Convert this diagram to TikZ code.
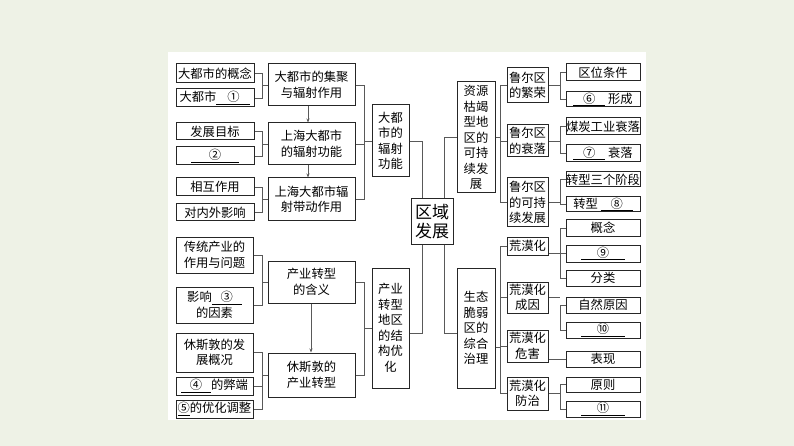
\documentclass[tikz,border=0pt]{standalone}
\usepackage{fontspec}
\setmainfont{Noto Sans CJK SC}
\begin{document}
\begin{tikzpicture}[x=1pt,y=-1pt,
  bx/.style={draw=black!85,line width=1pt,inner sep=0pt,align=center,font=\fontsize{12.3}{15.5}\selectfont,fill=white},
  ln/.style={draw=black!65,line width=0.9pt},
  arr/.style={ln,-{Stealth[length=4pt,width=3pt]}}]
\usetikzlibrary{arrows.meta}
\fill[fill={rgb,255:red,238;green,242;blue,230}] (0,0) rectangle (794,446);
\fill[white] (168,52) rectangle (646,420);
\useasboundingbox (0,0) rectangle (794,446);
\newcommand\B[6]{\node[bx,minimum width={(#4-#2)*1pt},minimum height={(#5-#3)*1pt}] (#1) at ({(#2+#4)/2},{(#3+#5)/2}) {#6};}
\newcommand\blk[2]{\underline{\makebox[#1]{#2}}}
% left top
\B{l1}{176}{64}{254}{83}{大都市的概念}
\B{l2}{176}{89}{254}{107}{大都市\blk{34pt}{①}}
\B{m1}{268}{64}{355}{106}{大都市的集聚\\与辐射作用}
\B{l3}{176}{123}{254}{140}{发展目标}
\B{l4}{176}{147}{254}{165}{\blk{48pt}{②}}
\B{m2}{268}{123}{355}{165}{上海大都市\\的辐射功能}
\B{l5}{176}{178}{254}{196}{相互作用}
\B{l6}{176}{204}{254}{221}{对内外影响}
\B{m3}{268}{178}{355}{221}{上海大都市辐\\射带动作用}
\B{k1}{372}{105}{409}{177}{大都\\市的\\辐射\\功能}
% left bottom
\B{l7}{176}{237}{253}{273}{传统产业的\\作用与问题}
\B{l8}{176}{287}{253}{323}{影响\blk{30pt}{③}\\的因素\hspace{22pt}}
\B{m4}{268}{261}{355}{303}{产业转型\\的含义}
\B{l9}{176}{333}{253}{372}{休斯敦的发\\展概况\hspace{22pt}}
\B{l10}{176}{377}{253}{395}{\blk{30pt}{④}的弊端}
\B{l11}{176}{400}{253}{418}{\blk{12pt}{⑤}的优化调整}
\B{m5}{268}{353}{355}{397}{休斯敦的\\产业转型}
\B{k2}{372}{268}{409}{388}{产业\\转型\\地区\\的结\\构优\\化}
% center
\node[bx,font=\fontsize{17}{19}\selectfont,minimum width=42pt,minimum height=45pt] (c) at (432,221.5) {区域\\发展};
% right top
\B{k3}{457}{82}{495}{193}{资源\\枯竭\\型地\\区的\\可持\\续发\\展}
\B{h1}{507}{68}{548}{103}{鲁尔区\\的繁荣}
\B{h2}{507}{125}{548}{157}{鲁尔区\\的衰落}
\B{h3}{507}{178}{548}{227}{鲁尔区\\的可持\\续发展}
\B{r1}{566}{64}{640}{81}{区位条件}
\B{r2}{566}{92}{640}{107}{\blk{32pt}{⑥}\ 形成}
\B{r3}{566}{118}{640}{135}{煤炭工业衰落}
\B{r4}{566}{145}{640}{162}{\blk{32pt}{⑦}\ 衰落}
\B{r5}{566}{172}{640}{187}{转型三个阶段}
\B{r6}{566}{197}{640}{212}{转型\ \blk{32pt}{⑧}}
% right bottom
\B{k4}{457}{268}{495}{388}{生态\\脆弱\\区的\\综合\\治理}
\B{h4}{507}{237}{548}{255}{荒漠化}
\B{h5}{507}{282}{548}{313}{荒漠化\\成因}
\B{h6}{507}{330}{548}{362}{荒漠化\\危害}
\B{h7}{507}{377}{548}{410}{荒漠化\\防治}
\B{r7}{566}{220}{640}{236}{概念}
\B{r8}{566}{245}{640}{262}{\blk{44pt}{⑨}}
\B{r9}{566}{270}{640}{286}{分类}
\B{r10}{566}{297}{640}{313}{自然原因}
\B{r11}{566}{322}{640}{338}{\blk{44pt}{⑩}}
\B{r12}{566}{351}{640}{367}{表现}
\B{r13}{566}{377}{640}{392}{原则}
\B{r14}{566}{401}{640}{417}{\blk{44pt}{⑪}}
% column coordinates
\coordinate (xa) at (262,0);
\coordinate (xb) at (364,0);
\coordinate (xc) at (500,0);
\coordinate (xd) at (560,0);
\coordinate (xe) at (422,0);
\coordinate (xf) at (444,0);
% left brackets
\foreach \a/\b/\m in {l1/l2/m1,l3/l4/m2,l5/l6/m3,l7/l8/m4}{
  \draw[ln] (\a.east) -- (\a.east -| xa) -- (\b.east -| xa) -- (\b.east);
  \draw[ln] (\m.west -| xa) -- (\m.west);}
\draw[ln] (l9.east) -- (l9.east -| xa) -- (l11.east -| xa) -- (l11.east);
\draw[ln] (l10.east) -- (l10.east -| xa);
\draw[ln] (m5.west -| xa) -- (m5.west);
% middle brackets
\draw[ln] (m1.east) -- (m1.east -| xb) -- (m3.east -| xb) -- (m3.east);
\draw[ln] (m2.east) -- (m2.east -| xb);
\draw[ln] (k1.west -| xb) -- (k1.west);
\draw[ln] (m4.east) -- (m4.east -| xb) -- (m5.east -| xb) -- (m5.east);
\draw[ln] (xb |- 0,328) coordinate (p2) -- (p2 -| k2.west);
\draw[arr] (m1.south -| 308,0) -- (m2.north -| 308,0);
\draw[arr] (m2.south -| 308,0) -- (m3.north -| 308,0);
\draw[arr] (m4.south -| 311,0) -- (m5.north -| 311,0);
% center links
\draw[ln] (k1.east) -| (c.north -| xe);
\draw[ln] (k3.west) -| (c.north -| xf);
\draw[ln] (c.south -| xe) |- (k2.east |- 0,333);
\draw[ln] (c.south -| xf) |- (k4.west |- 0,333);
% resource bracket
\draw[ln] (h1.west) -- (h1.west -| xc) -- (h3.west -| xc) -- (h3.west);
\draw[ln] (h2.west) -- (h2.west -| xc);
\draw[ln] (k3.east) -- (k3.east -| xc);
\draw[ln] (h4.west) -- (h4.west -| xc) -- (h7.west -| xc) -- (h7.west);
\draw[ln] (h5.west) -- (h5.west -| xc);
\draw[ln] (h6.west) -- (h6.west -| xc);
\draw[ln] (k4.east |- 0,347) coordinate (p3) -- (p3 -| xc);
% right brackets
\foreach \h/\a/\b in {h1/r1/r2,h2/r3/r4,h3/r5/r6,h5/r10/r11,h7/r13/r14}{
  \draw[ln] (\h.east) -- (\h.east -| xd);
  \draw[ln] (\a.west) -- (\a.west -| xd) -- (\b.west -| xd) -- (\b.west);}
\draw[ln] (h4.east |- r8.west) -- (r8.west);
\draw[ln] (r7.west) -- (r7.west -| xd) -- (r9.west -| xd) -- (r9.west);
\draw[ln] (h6.east |- r12.west) -- (r12.west);
\end{tikzpicture}
\end{document}
